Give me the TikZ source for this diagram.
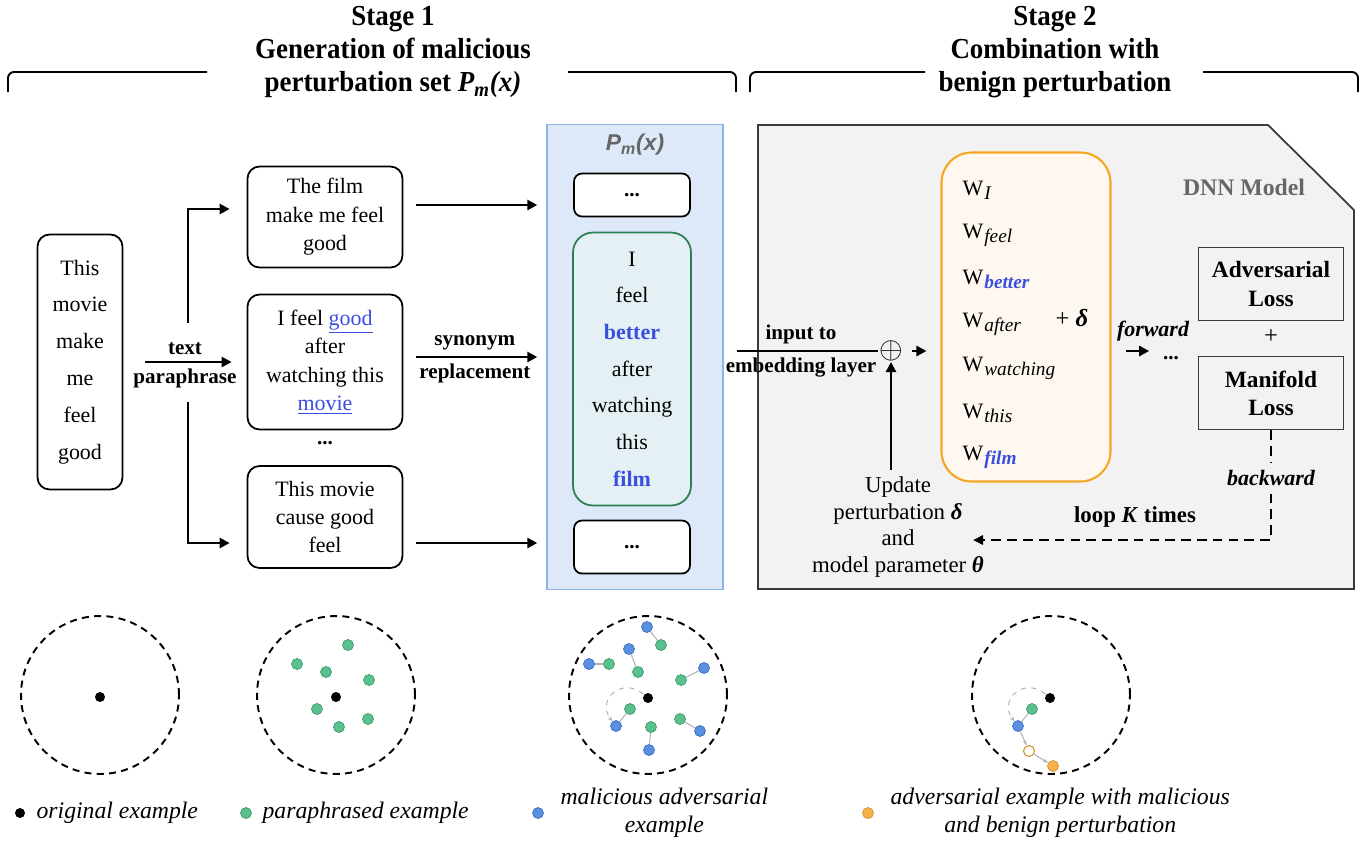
\documentclass[tikz,border=0pt]{standalone}
\usepackage{fontspec}
\setmainfont{Liberation Serif}
\setsansfont{Liberation Sans}
\newfontfamily\headfont[FakeStretch = 0.93]{Liberation Serif}
\usetikzlibrary{arrows.meta,positioning}

\definecolor{pmfill}{HTML}{DDE8F8}
\definecolor{pmline}{HTML}{8DB4EA}
\definecolor{dnnfill}{HTML}{F2F2F2}
\definecolor{dnnline}{HTML}{3A3A3A}
\definecolor{embfill}{HTML}{FEF8F0}
\definecolor{embline}{HTML}{F5A623}
\definecolor{synfill}{HTML}{E5F0F5}
\definecolor{synline}{HTML}{2E7D55}
\definecolor{wordblue}{HTML}{3A4FE0}
\definecolor{parafill}{HTML}{5AC18E}
\definecolor{paraline}{HTML}{3C9A6A}
\definecolor{malfill}{HTML}{5B8FDF}
\definecolor{malline}{HTML}{3E6EC2}
\definecolor{benfill}{HTML}{F7B24A}
\definecolor{benline}{HTML}{D68E2A}
\definecolor{titlegray}{HTML}{666666}

\newcommand{\sz}[2]{\fontsize{#1}{#2}\selectfont}
\newcommand{\wsub}[1]{W\kern0.5pt\raisebox{-0.4ex}{\sz{11}{11}\itshape #1}}

\begin{document}
\begin{tikzpicture}[line width = 1pt,
                    x = 0.02cm,
                    y = -0.02cm,
                    head/.style = {align = center, font = \headfont\bfseries\sz{16.5}{18.8}},
                    sent/.style = {draw, fill = white, rounded corners = 0.24cm, align = center,
                                   minimum width = 3.1cm, font = \sz{12.5}{16.2}},
                    lbl/.style = {font = \bfseries\sz{12}{14}},
                    arr/.style = {line width = 1.6pt, -{Triangle[length = 0.2cm, width = 0.2cm]}},
                    loss/.style = {draw = dnnline, align = center, minimum width = 2.9cm,
                                   minimum height = 1.46cm, font = \bfseries\sz{13.3}{16}},
                    zone/.style = {circle, draw, dashed, dash pattern = on 4pt off 3pt,
                                   line width = 1.1pt, minimum size = 3.16cm},
                    origdot/.style = {circle, fill = black, inner sep = 0pt, minimum size = 0.2cm},
                    paradot/.style = {circle, draw = paraline, fill = parafill, line width = 0.4pt,
                                      inner sep = 0pt, minimum size = 0.22cm},
                    maldot/.style = {circle, draw = malline, fill = malfill, line width = 0.4pt,
                                     inner sep = 0pt, minimum size = 0.22cm},
                    bendot/.style = {circle, draw = benline, fill = benfill, line width = 0.4pt,
                                     inner sep = 0pt, minimum size = 0.22cm},
                    hollowdot/.style = {circle, draw = benline, fill = white, line width = 0.6pt,
                                        inner sep = 0pt, minimum size = 0.22cm},
                    link/.style = {draw = gray!60, line width = 0.6pt},
                    loopy/.style = {draw = gray!65, dashed, line width = 0.5pt, -{Stealth[length = 3pt]}},
                    legtext/.style = {align = center, font = \itshape\sz{13.5}{16}}]

    \useasboundingbox (0,0) rectangle (1370,850);

    % stage headings
    \node[head] (st1) at (393,52) {Stage 1\\Generation of malicious\\perturbation set \textit{P}\textsubscript{\textit{m}}\textit{(x)}};
    \node[head] (st2) at (1055,52) {Stage 2\\Combination with\\benign perturbation};
    \draw[line width = 1.1pt, rounded corners = 0.12cm] (8,92) -- (8,72) -- (207,72);
    \draw[line width = 1.1pt, rounded corners = 0.12cm] (568,72) -- (736,72) -- (736,92);
    \draw[line width = 1.1pt, rounded corners = 0.12cm] (750,92) -- (750,72) -- (925,72);
    \draw[line width = 1.1pt, rounded corners = 0.12cm] (1203,72) -- (1358,72) -- (1358,92);

    % stage 1
    \node[sent, minimum width = 1.7cm, minimum height = 5.1cm, font = \sz{12.5}{21}] (orig) at (80,362)
        {This\\movie\\make\\me\\feel\\good};
    \node[sent, minimum height = 2.02cm] (s1) at (325,217) {The film\\make me feel\\good};
    \node[sent, minimum height = 2.7cm] (s2) at (325,362)
        {I feel \textcolor{wordblue}{\underline{good}}\\after\\watching this\\\textcolor{wordblue}{\underline{movie}}};
    \node[font = \bfseries\sz{12}{12}] (more) at (325,443) {...};
    \node[sent, minimum height = 2.04cm] (s3) at (325,517) {This movie\\cause good\\feel};

    \draw[arr, shorten < = 0.44cm, shorten > = 0.3cm] (orig.east |- s2) -- node[lbl, above] {text}
        node[lbl, below] {paraphrase} (s2.west);
    \coordinate (up) at (188,323);
    \coordinate (dn) at (188,402);
    \draw[arr, shorten > = 0.34cm] (up) |- (s1.west |- 0,209);
    \draw[arr, shorten > = 0.34cm] (dn) |- (s3.west |- 0,543);

    \node[draw = pmline, fill = pmfill, line width = 0.8pt, minimum width = 3.52cm,
          minimum height = 9.3cm] (pm) at (635,357) {};
    \node[font = \sffamily\bfseries\itshape\sz{13}{13}, text = titlegray] (pmtitle) at (635,145)
        {P\textsubscript{m}(x)};
    \node[sent, minimum width = 2.32cm, minimum height = 0.86cm, rounded corners = 0.16cm,
          font = \bfseries\sz{12}{12}] (dtop) at (632,195) {...};
    \node[draw = synline, fill = synfill, rounded corners = 0.4cm, minimum width = 2.36cm,
          minimum height = 5.46cm, align = center, font = \sz{12.5}{20.9}] (syn) at (632,369)
        {I\\feel\\\textcolor{wordblue}{\textbf{better}}\\after\\watching\\this\\\textcolor{wordblue}{\textbf{film}}};
    \node[sent, minimum width = 2.32cm, minimum height = 1.06cm, rounded corners = 0.16cm,
          font = \bfseries\sz{12}{12}] (dbot) at (632,547) {...};

    \draw[arr, shorten < = 0.26cm, shorten > = 0.18cm] (s1.east |- 0,205) -- (pm.west |- 0,205);
    \draw[arr, shorten < = 0.26cm, shorten > = 0.18cm] (s2.east |- 0,357) -- node[lbl, above] {synonym}
        node[lbl, below] {replacement} (pm.west |- 0,357);
    \draw[arr, shorten < = 0.26cm, shorten > = 0.18cm] (s3.east |- 0,543) -- (pm.west |- 0,543);

    % stage 2
    \draw[draw = dnnline, fill = dnnfill] (758,125) -- (1268,125) -- (1354,210) -- (1354,589)
        -- (758,589) -- cycle;
    \node[font = \bfseries\sz{13.5}{14}, text = titlegray] (dnn) at (1244,187) {DNN Model};

    \node[draw = embline, fill = embfill, line width = 1.2pt, rounded corners = 0.6cm,
          minimum width = 3.38cm, minimum height = 6.58cm] (emb) at (1026,317) {};
    \foreach \w [count = \k] in {I, feel, {\textcolor{wordblue}{\bfseries better}}, after, watching,
                                 this, {\textcolor{wordblue}{\bfseries film}}}
    {
        \node[anchor = west, font = \sz{12.5}{14}] (w\k) at (956,146+44.5*\k) {\wsub{\w}};
    }
    \node[font = \sz{14}{14}] (delta) at (1072,318) {+ \textbf{\textit{δ}}};

    \node[inner sep = 0pt, font = \sz{17}{17}] (plus) at (891,351) {$\oplus$};
    \draw[line width = 1.6pt, shorten < = 0.26cm] (pm.east |- plus) -- node[lbl, above] {input to}
        node[lbl, below] {embedding layer} (plus.west);
    \draw[arr, shorten < = 0.16cm, shorten > = 0.28cm] (plus.east) -- (emb.west |- plus);

    \node[align = center, font = \sz{13}{15.1}] (upd) at (898,527)
        {Update\\perturbation \textbf{\textit{δ}}\\and\\model parameter \textbf{\textit{θ}}};
    \draw[arr] (upd.north -| plus) -- (plus.south);

    \node[inner sep = 0pt, font = \bfseries\sz{12}{12}] (fdots) at (1171,358) {...};
    \node[inner sep = 1pt, font = \bfseries\itshape\sz{12.5}{14}] (fwd) at (1153,331) {forward};
    \draw[arr, shorten < = 0.28cm, shorten > = 0.26cm] (emb.east |- plus) -- (fdots.west |- plus);

    \node[loss] (adv) at (1271,284) {Adversarial\\Loss};
    \node[font = \sz{14}{14}] (sum) at (1271,337) {+};
    \node[loss] (man) at (1271,393) {Manifold\\Loss};

    \node[font = \bfseries\itshape\sz{12.5}{14}, fill = dnnfill, inner sep = 4pt] (bwd) at (1271,478) {backward};
    \coordinate (loopend) at (973,540);
    \draw[dashed, dash pattern = on 5.5pt off 3.5pt, line width = 1.5pt] (man) -- (bwd);
    \draw[dashed, dash pattern = on 5.5pt off 3.5pt, line width = 1.5pt,
          -{Triangle[length = 0.2cm, width = 0.18cm]}] (bwd) |- (loopend);
    \node[font = \bfseries\sz{13}{14}] (loop) at (1135,517) {loop \textit{K} times};

    % example spaces
    \foreach \cx/\nm in {100/1, 336/2, 648/3, 1051/4}
    {
        \node[zone] (z\nm) at (\cx,695) {};
    }
    \node[origdot] (o1) at (100,697) {};

    \node[origdot] (o2) at (336,697) {};
    \foreach \x/\y [count = \k] in {297/664, 326/672, 348/645, 369/680, 317/709, 339/727, 368/719}
    {
        \node[paradot] (p\k) at (\x,\y) {};
    }

    \node[origdot] (o3) at (648,698) {};
    \foreach \bx/\by/\gx/\gy [count = \k] in {647/627/661/645, 629/649/638/672, 589/664/609/664,
                                              704/668/681/680, 616/726/630/709, 649/750/651/727,
                                              700/731/680/719}
    {
        \node[paradot] (g\k) at (\gx,\gy) {};
        \node[maldot] (b\k) at (\bx,\by) {};
        \draw[link] (g\k) -- (b\k);
    }
    \draw[loopy] (o3) .. controls (622,676) and (596,700) .. (b5);

    \node[origdot] (o4) at (1050,698) {};
    \node[paradot] (q4) at (1032,709) {};
    \node[maldot] (m4) at (1018,726) {};
    \node[hollowdot] (h4) at (1029,751) {};
    \node[bendot] (a4) at (1053,766) {};
    \draw[link] (q4) -- (m4);
    \draw[link, -{Stealth[length = 3pt]}] (m4) -- (h4);
    \draw[link, -{Stealth[length = 3pt]}] (h4) -- (a4);
    \draw[loopy] (o4) .. controls (1024,676) and (998,700) .. (m4);

    % legend
    \node[origdot] (l1) at (20,813) {};
    \node[legtext, right = 0.08cm of l1] (t1) {original example};
    \node[paradot] (l2) at (246,813) {};
    \node[legtext, right = 0.08cm of l2] (t2) {paraphrased example};
    \node[maldot] (l3) at (538,813) {};
    \node[legtext, right = 0.2cm of l3] (t3) {malicious adversarial\\example};
    \node[bendot] (l4) at (868,813) {};
    \node[legtext, right = 0.2cm of l4] (t4) {adversarial example with malicious\\and benign perturbation};
\end{tikzpicture}
\end{document}
